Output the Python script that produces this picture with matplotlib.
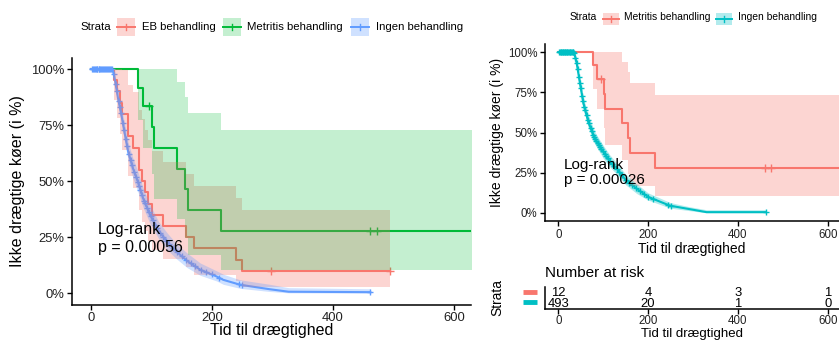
import numpy as np
import matplotlib
matplotlib.use('Agg')
import matplotlib.pyplot as plt
from matplotlib.patches import Rectangle
from matplotlib.lines import Line2D

plt.rcParams['font.family'] = ['Liberation Sans', 'DejaVu Sans']

W, H = 839, 340

RED = '#F8766D'
GREEN = '#00BA38'
BLUE = '#619CFF'
TEAL = '#00BFC4'

# Kaplan-Meier data, survival in percent
# EB behandling
eb_t = [0, 38, 43, 48, 52, 62, 69, 80, 84, 89, 94, 101, 120, 157, 170, 240, 250, 495]
eb_s = [100, 95, 90, 85, 80, 70, 65, 55, 50, 45, 40, 35, 30, 25, 20, 15, 10, 10]
eb_lo = [100, 86, 78, 71, 64, 52.5, 47, 37, 32, 27.7, 23.4, 19.3, 15.4, 11.7, 8.3, 5.3, 2.7, 2.7]
eb_hi = [100, 100, 100, 100, 99.6, 93, 89.6, 81.8, 77.5, 73, 68.4, 63.6, 58.6, 53.4, 48, 42.6, 37.2, 37.2]
eb_cens = [298, 495]

# Metritis behandling
met_t = [0, 78, 87, 101, 104, 143, 156, 160, 215, 640]
met_s = [100, 91.7, 83.3, 74.1, 64.8, 55.6, 46.3, 37.0, 27.8, 27.8]
met_lo = [100, 77.3, 64.7, 53, 42, 33, 24.5, 17, 10.5, 10.5]
met_hi = [100, 100, 100, 100, 100, 94, 87.5, 80.5, 73, 73]
met_cens = [96, 461, 473]

# Ingen behandling (left plot)
ing_t = [0, 35, 37, 40, 45, 51, 57, 62, 70, 77, 87, 98, 112, 126, 142, 159, 181, 208, 219, 247, 296, 327, 462]
ing_s = [100, 100, 99, 95, 87, 79, 70, 63, 55.5, 50.5, 42, 35, 28, 23, 18.5, 14.5, 10.5, 7.5, 6, 3.8, 1.8, 0.7, 0.5]
ing_lo = [100, 100, 98, 93, 84, 75.5, 66, 59, 51, 46, 38, 31, 24.5, 19.5, 15.3, 11.5, 8, 5.5, 4, 2.2, 0.8, 0.2, 0.1]
ing_hi = [100, 100, 100, 97, 90, 82.5, 74, 67, 60, 55, 46.5, 39.5, 32, 27, 22, 18, 13.5, 10, 8.5, 6, 4, 2.5, 2.0]
ing_cens = [2, 4, 5, 7, 8, 10, 11, 13, 14, 16, 17, 19, 20, 22, 24, 25, 27, 28, 30, 32, 33, 35,
            38, 41, 43, 46, 48, 50, 53, 55, 58, 60, 63, 66, 68, 72, 75, 78, 80, 82, 85, 88,
            90, 93, 96, 99, 103, 107, 110, 115, 120, 125, 130, 136, 142, 150, 158, 165,
            173, 182, 190, 200, 212, 245, 250, 462]

# Ingen behandling (right plot)
ing2_t = [0, 33, 36, 41, 48, 56, 67, 80, 100, 115, 132, 150, 175, 200, 249, 290, 330, 462]
ing2_s = [100, 100, 99, 93, 81, 68, 56.5, 47, 38, 32, 27, 20.5, 15, 10, 4.5, 2.5, 0.5, 0.5]
ing2_lo = [100, 100, 98, 91, 78, 64.5, 53, 43.5, 34, 28.5, 23.5, 17.5, 12, 8, 3, 1.5, 0.1, 0.1]
ing2_hi = [100, 100, 100, 95, 84, 71.5, 60.5, 51, 42, 36, 30.5, 24, 18, 12.5, 6.5, 4, 2, 2]

# Number at risk
risk_times = [0, 200, 400, 600]
risk_met = [12, 4, 3, 1]
risk_ing = [493, 20, 1, 0]


def fx(x):
    return x / W


def fy(y):
    return 1 - y / H


def step_at(t, s, c):
    i = np.searchsorted(t, c, side='right') - 1
    return np.array(s)[i]


def style_axis(ax, fs, pad=2):
    for sp in ['top', 'right']:
        ax.spines[sp].set_visible(False)
    for sp in ['left', 'bottom']:
        ax.spines[sp].set_linewidth(1.1)
        ax.spines[sp].set_color('black')
    ax.tick_params(length=3.5, width=1, color='black', labelcolor='#222222',
                   labelsize=fs, pad=pad)


def km_step(ax, t, s, lo, hi, cens, color, a=0.3):
    ax.step(t, s, where='post', color=color, lw=1.5, zorder=2)
    ax.plot(cens, step_at(t, s, cens), ls='none', marker='+', ms=5.5, mew=1,
            color=color, zorder=2)
    ax.fill_between(t, lo, hi, step='post', color=color, alpha=a, lw=0, zorder=3)


def km_smooth(ax, t, s, lo, hi, cens, color, a=0.3):
    ax.plot(t, s, color=color, lw=1.5, zorder=2)
    ax.plot(cens, np.interp(cens, t, s), ls='none', marker='+', ms=5, mew=1,
            color=color, zorder=2)
    ax.fill_between(t, lo, hi, color=color, alpha=a, lw=0, zorder=3)


def legend_key(fig, x0, x1, yc, h, color, a=0.3):
    fig.add_artist(Rectangle((fx(x0), fy(yc + h / 2)), fx(x1) - fx(x0), h / H,
                             transform=fig.transFigure, facecolor=color,
                             alpha=a, lw=0))
    fig.add_artist(Line2D([fx(x0), fx(x1)], [fy(yc), fy(yc)],
                          transform=fig.transFigure, color=color, lw=1.4))
    xm = (x0 + x1) / 2
    fig.add_artist(Line2D([fx(xm), fx(xm)], [fy(yc - 3), fy(yc + 3)],
                          transform=fig.transFigure, color=color, lw=1))


fig = plt.figure(figsize=(W / 100, H / 100), dpi=100)

# ---- left plot: three strata ----
ax1 = fig.add_axes([fx(72), fy(304.5), fx(470.7) - fx(72), (304.5 - 57.8) / H])
km_step(ax1, eb_t, eb_s, eb_lo, eb_hi, eb_cens, RED)
km_step(ax1, met_t, met_s, met_lo, met_hi, met_cens, GREEN, a=0.23)
km_smooth(ax1, ing_t, ing_s, ing_lo, ing_hi, ing_cens, BLUE)
ax1.set_xlim(-31, 628)
ax1.set_ylim(-5, 105)
ax1.set_xticks([0, 200, 400, 600])
ax1.set_yticks([0, 25, 50, 75, 100])
ax1.set_yticklabels(['0%', '25%', '50%', '75%', '100%'])
style_axis(ax1, 9.4)
ax1.set_ylabel('Ikke drægtige køer (i %)', fontsize=11.5, labelpad=4)
fig.text(fx(271.3), fy(331), 'Tid til drægtighed', fontsize=11.5,
         ha='center', va='center')
ax1.text(12, 24.5, 'Log-rank\np = 0.00056', fontsize=11.5, ha='left',
         va='center', linespacing=1.3, zorder=5)

fig.text(fx(80), fy(27.3), 'Strata', fontsize=8.2, va='center', ha='left')
legend_key(fig, 117.3, 135, 27, 17.5, RED)
fig.text(fx(141.7), fy(27.3), 'EB behandling', fontsize=8.2, va='center')
legend_key(fig, 222.7, 240.7, 27, 17.5, GREEN, a=0.23)
fig.text(fx(247.3), fy(27.3), 'Metritis behandling', fontsize=8.2, va='center')
legend_key(fig, 350.7, 369.3, 27, 17.5, BLUE)
fig.text(fx(375.7), fy(27.3), 'Ingen behandling', fontsize=8.2, va='center')

# ---- right plot: two strata ----
ax2 = fig.add_axes([fx(545), fy(221), 1 - fx(545), (221 - 44) / H])
km_step(ax2, met_t, met_s, met_lo, met_hi, met_cens, RED)
km_smooth(ax2, ing2_t, ing2_s, ing2_lo, ing2_hi, ing_cens, TEAL)
ax2.set_xlim(-29.6, 625.2)
ax2.set_ylim(-5, 105)
ax2.set_xticks([0, 200, 400, 600])
ax2.set_yticks([0, 25, 50, 75, 100])
ax2.set_yticklabels(['0%', '25%', '50%', '75%', '100%'])
style_axis(ax2, 8.3)
ax2.set_xlabel('Tid til drægtighed', fontsize=10, labelpad=1)
ax2.set_ylabel('Ikke drægtige køer (i %)', fontsize=10, labelpad=3)
ax2.text(13, 25, 'Log-rank\np = 0.00026', fontsize=11, ha='left',
         va='center', linespacing=1.05, zorder=5)

fig.text(fx(570), fy(17.3), 'Strata', fontsize=7.4, va='center', ha='left')
legend_key(fig, 603.3, 619.3, 19, 12, RED)
fig.text(fx(624.3), fy(17.3), 'Metritis behandling', fontsize=7.4, va='center')
legend_key(fig, 716, 732.3, 19, 12, TEAL)
fig.text(fx(737.7), fy(17.3), 'Ingen behandling', fontsize=7.4, va='center')

# ---- number at risk table ----
ax3 = fig.add_axes([fx(545), fy(309), 1 - fx(545), 22 / H])
ax3.set_xlim(-29.6, 625.2)
ax3.set_ylim(0.56, 2.5)
for x, n1, n2 in zip(risk_times, risk_met, risk_ing):
    ax3.text(x, 2, str(n1), ha='center', va='center', fontsize=9.4)
    ax3.text(x, 1, str(n2), ha='center', va='center', fontsize=9.4)
ax3.set_xticks(risk_times)
ax3.set_yticks([])
style_axis(ax3, 8.3, pad=1)
fig.text(fx(692), fy(334.5), 'Tid til drægtighed', fontsize=9.5,
         ha='center', va='center')
fig.text(fx(545), fy(272.7), 'Number at risk', fontsize=11, va='center', ha='left')
fig.text(fx(497), fy(298), 'Strata', fontsize=9.9, rotation=90, va='center', ha='center')
for yy, col in [(291.7, RED), (301.7, TEAL)]:
    fig.add_artist(Line2D([fx(523), fx(537)], [fy(yy), fy(yy)],
                          transform=fig.transFigure, color=col, lw=3.5,
                          solid_capstyle='butt'))

fig.savefig('out.png', dpi=100)
